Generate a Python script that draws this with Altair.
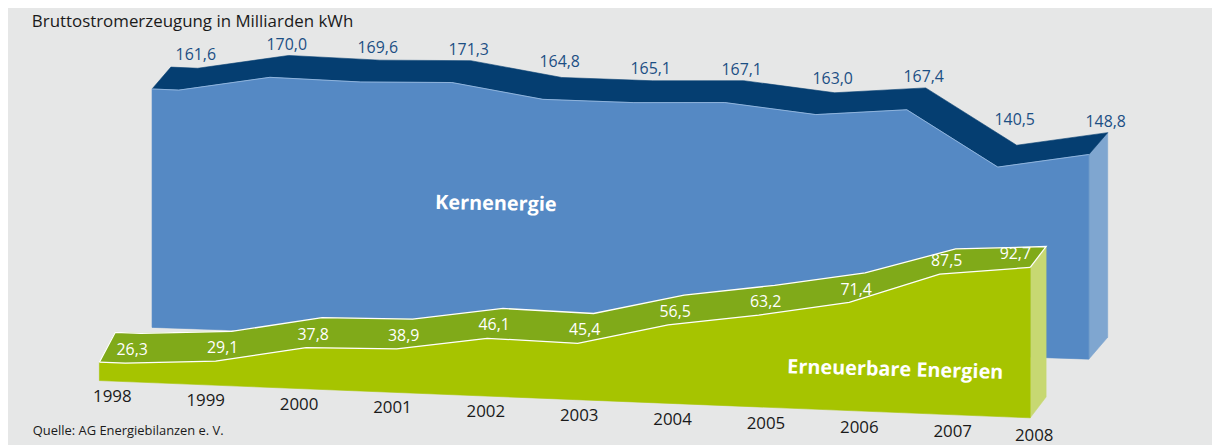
import altair as alt
import numpy as np
import pandas as pd

# ---------------- data ----------------
years = [1998, 1999, 2000, 2001, 2002, 2003, 2004, 2005, 2006, 2007, 2008]
kernenergie = [161.6, 170.0, 169.6, 171.3, 164.8, 165.1, 167.1, 163.0, 167.4, 140.5, 148.8]
erneuerbare = [26.3, 29.1, 37.8, 38.9, 46.1, 45.4, 56.5, 63.2, 71.4, 87.5, 92.7]
series_names = ["Kernenergie", "Erneuerbare Energien"]
title_text = "Bruttostromerzeugung in Milliarden kWh"
source_text = "Quelle: AG Energiebilanzen e. V."


def de(v):
    return f"{v:.1f}".replace(".", ",")


# ---------------- canvas / styles ----------------
W, H = 1212, 437
OFF = 8                 # page margin (reference coordinates of chart origin)
PX_PER_UNIT = 2.0       # value axis: 2 px per billion kWh
FONT = "Open Sans"
BG = "#e6e7e7"

COL = {
    "K": dict(face="#5589c4", band="#053e71", side="#7fa6d0", hi="#9fc0e4"),
    "E": dict(face="#a6c400", band="#80aa19", side="#c7d872", hi="#ffffff"),
}

# pseudo-3D perspective geometry (x in reference px, sheared value axis)
GEO = {
    "K": dict(ground=404.7, slope=0.0428, x0=180.0, step=91.6, stub=27.0, dx=19.0, floor=(41.6, 45.8)),
    "E": dict(ground=411.6, slope=0.040, x0=126.0, step=91.1, stub=26.0, dx=16.0, floor=(17.0, 17.0)),
}


def depth_dy(key, x):
    if key == "K":
        return -22.0
    t = min(max((x - 850.0) / 187.0, 0.0), 1.0)
    return -30.0 + 9.0 * t


def build(key, vals):
    g = GEO[key]
    xs = [g["x0"] + g["step"] * i for i in range(len(vals))]
    xl, xr = xs[0] - g["stub"], xs[-1]

    def yv(x, v):
        return v + (OFF + H - g["ground"] - g["slope"] * x) / PX_PER_UNIT

    def floor_v(x):
        f0, f1 = g["floor"]
        return f0 + (f1 - f0) * (x - xl) / (xr - xl)

    front = [(xl, yv(xl, vals[0]))] + [(x, yv(x, v)) for x, v in zip(xs, vals)]
    back = [(x + g["dx"], y - depth_dy(key, x) / PX_PER_UNIT) for x, y in front]
    bl = (xl, yv(xl, floor_v(xl)))
    br = (xr, yv(xr, floor_v(xr)))
    dyr = depth_dy(key, xr) / PX_PER_UNIT
    face = front + [br, bl]
    band = front + back[::-1]
    side = [front[-1], back[-1], (xr + g["dx"], br[1] - dyr), br]
    return dict(xs=xs, front=front, back=back, face=face, band=band, side=side, xr=xr)


K = build("K", kernenergie)
E = build("E", erneuerbare)

X = alt.X("x:Q", scale=alt.Scale(domain=[OFF, OFF + W], nice=False, zero=False), axis=None)
Y = alt.Y("y:Q", scale=alt.Scale(domain=[0, H / PX_PER_UNIT], nice=False, zero=False), axis=None)


def pts_df(pts):
    return pd.DataFrame({"x": [p[0] for p in pts], "y": [p[1] for p in pts], "k": list(range(len(pts)))})


def polygon(pts, color):
    return alt.Chart(pts_df(pts)).mark_line(
        fill=color, stroke=color, strokeWidth=0.6, interpolate="linear-closed"
    ).encode(x=X, y=Y, order="k:Q")


def polyline(pts, color, width, opacity=1.0):
    return alt.Chart(pts_df(pts)).mark_line(
        stroke=color, strokeWidth=width, strokeOpacity=opacity, interpolate="linear"
    ).encode(x=X, y=Y, order="k:Q")


def to_yv(Yref):
    return (OFF + H - Yref) / PX_PER_UNIT


layers = []
# Kernenergie ribbon
layers.append(polygon(K["side"], COL["K"]["side"]))
layers.append(polygon(K["band"], COL["K"]["band"]))
layers.append(polygon(K["face"], COL["K"]["face"]))
layers.append(polyline(K["front"], COL["K"]["hi"], 1.0, 0.8))
# Erneuerbare ribbon
layers.append(polygon(E["side"], COL["E"]["side"]))
layers.append(polygon(E["band"], COL["E"]["band"]))
layers.append(polygon(E["face"], COL["E"]["face"]))
layers.append(polyline([E["front"][0]] + E["back"] + [E["front"][-1]], "#ffffff", 1.3))
layers.append(polyline(E["front"], "#ffffff", 1.3))

# value labels Kernenergie: above the back edge, clear of the edge over the label's width
bx = np.array([p[0] for p in K["back"]])
by = np.array([p[1] for p in K["back"]])
k_x, k_y = [], []
for p in K["back"][1:]:
    cx = p[0] - 2
    span = np.linspace(cx - 20, cx + 20, 41)
    top = np.interp(span, bx, by).max()          # highest point of the edge under the label
    k_x.append(cx)
    k_y.append(top + 6 / PX_PER_UNIT)
k_lab = pd.DataFrame({"x": k_x, "y": k_y, "t": [de(v) for v in kernenergie]})
layers.append(alt.Chart(k_lab).mark_text(
    font=FONT, fontSize=16, color="#1c4f84", align="center", baseline="alphabetic"
).encode(x=X, y=Y, text="t:N"))

# value labels Erneuerbare (inside the top band)
n = len(erneuerbare)
e_lab = pd.DataFrame({
    "x": [p[0] + (7 if i < n - 1 else -15) for i, p in enumerate(E["front"][1:])],
    "y": [p[1] + 8 / PX_PER_UNIT for p in E["front"][1:]],
    "t": [de(v) for v in erneuerbare],
})
layers.append(alt.Chart(e_lab).mark_text(
    font=FONT, fontSize=16, color="#ffffff", align="center", baseline="alphabetic"
).encode(x=X, y=Y, text="t:N"))

# year labels along the slanted floor
y_lab = pd.DataFrame({
    "x": [min(113 + 94 * i, E["xr"] + 4) for i in range(len(years))],
    "y": [to_yv(403 + 3.9 * i) for i in range(len(years))],
    "t": [str(y) for y in years],
})
layers.append(alt.Chart(y_lab).mark_text(
    font=FONT, fontSize=17, color="#1a1a1a", align="center", baseline="alphabetic"
).encode(x=X, y=Y, text="t:N"))


def fixed_text(txt, px, py, baseline="alphabetic", **kw):
    return alt.Chart(pd.DataFrame({"t": [txt]})).mark_text(font=FONT, baseline=baseline, **kw).encode(
        x=alt.value(px), y=alt.value(py), text="t:N"
    )


layers.append(fixed_text(series_names[0], 499 - OFF, 210 - OFF, fontSize=20, fontWeight="bold",
                         color="#ffffff", align="center", angle=1))
layers.append(fixed_text(series_names[1], 901 - OFF, 377 - OFF, fontSize=20, fontWeight="bold",
                         color="#ffffff", align="center", angle=1.5))
layers.append(fixed_text(title_text, 32 - OFF, 17.8, fontSize=17, color="#1a1a1a", align="left"))
layers.append(fixed_text(source_text, 33 - OFF, 436 - OFF, fontSize=13, color="#1a1a1a", align="left"))

chart = alt.layer(*layers).properties(
    width=W, height=H, background=BG, padding=0,
    autosize=alt.AutoSizeParams(type="none"),
).configure_view(stroke=None)

chart.save("out.html", embed_options={"renderer": "svg", "actions": False})
